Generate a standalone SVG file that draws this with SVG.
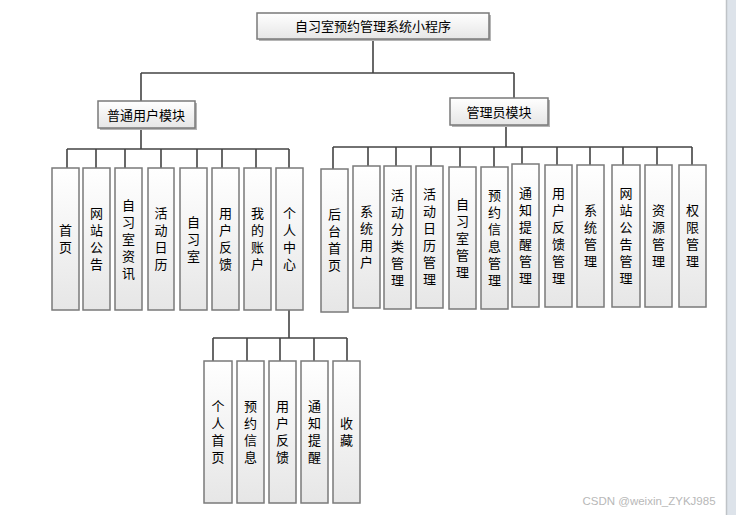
<svg xmlns="http://www.w3.org/2000/svg" width="736" height="515" viewBox="0 0 736 515">
<defs>
<linearGradient id="g" x1="0" y1="0" x2="0" y2="1">
<stop offset="0" stop-color="#ffffff"/>
<stop offset="1" stop-color="#e6e6e6"/>
</linearGradient>
<style>
.b{fill:url(#g);stroke:#7a7a7a;stroke-width:1.5}
.s{fill:#b5b5b5}
.t{font-family:"Noto Sans CJK SC","Liberation Sans",sans-serif;font-size:13px;fill:#000;text-anchor:middle}
.v{font-family:"Noto Sans CJK SC","Liberation Sans",sans-serif;font-size:13px;fill:#000;text-anchor:middle;writing-mode:vertical-rl;text-orientation:upright;letter-spacing:4px}
.c{stroke:#444;stroke-width:1.6;fill:none}
</style>
</defs>
<rect width="736" height="515" fill="#fff"/>
<rect x="726" y="0" width="10" height="515" fill="#dde3ea"/>
<line x1="726.5" y1="0" x2="726.5" y2="515" stroke="#bfc3c7" stroke-width="1.5"/>
<g id="connectors" class="c">
<path d="M373 39V73M141 73H514M141 73V101M514 73V98"/>
<path d="M141 128V149M67 149H289M67 149V168M96 149V168M125 149V168M161 149V168M197 149V168M222 149V168M256 149V168M289 149V168"/>
<path d="M506 125V147M333 147H692M333 147V169M368 147V166M396 147V166M431 147V166M460 147V167M494 147V167M522 147V164M557 147V165M590 147V165M623 147V165M657 147V165M692 147V165"/>
<path d="M289 310V338M213 338H347M213 338V361M247 338V361M280 338V361M314 338V361M347 338V361"/>
</g>
<g id="root"><rect class="s" x="259" y="15" width="232" height="26"/><rect class="b" x="257" y="13" width="232" height="26"/><text class="t" x="373" y="31">自习室预约管理系统小程序</text></g>
<g id="user"><rect class="s" x="100" y="103" width="97" height="27"/><rect class="b" x="98" y="101" width="97" height="27"/><text class="t" x="146" y="120">普通用户模块</text></g>
<g id="admin"><rect class="s" x="452" y="100" width="98" height="27"/><rect class="b" x="450" y="98" width="98" height="27"/><text class="t" x="499" y="117">管理员模块</text></g>
<g id="u1"><rect class="b" x="52" y="168" width="27" height="142"/><text class="v" x="65.5" y="241">首页</text></g>
<g id="u2"><rect class="b" x="83" y="168" width="27" height="142"/><text class="v" x="96.5" y="241">网站公告</text></g>
<g id="u3"><rect class="b" x="115" y="168" width="27" height="142"/><text class="v" x="128.5" y="241">自习室资讯</text></g>
<g id="u4"><rect class="b" x="148" y="168" width="26" height="142"/><text class="v" x="161" y="241">活动日历</text></g>
<g id="u5"><rect class="b" x="180" y="168" width="27" height="142"/><text class="v" x="193.5" y="241">自习室</text></g>
<g id="u6"><rect class="b" x="212" y="168" width="27" height="142"/><text class="v" x="225.5" y="241">用户反馈</text></g>
<g id="u7"><rect class="b" x="244" y="168" width="27" height="142"/><text class="v" x="257.5" y="241">我的账户</text></g>
<g id="u8"><rect class="b" x="276" y="168" width="27" height="142"/><text class="v" x="289.5" y="241">个人中心</text></g>
<g id="a1"><rect class="b" x="321" y="169" width="27" height="143"/><text class="v" x="334.5" y="242">后台首页</text></g>
<g id="a2"><rect class="b" x="353" y="166" width="27" height="142"/><text class="v" x="366.5" y="239">系统用户</text></g>
<g id="a3"><rect class="b" x="384" y="166" width="27" height="143"/><text class="v" x="397.5" y="239.5">活动分类管理</text></g>
<g id="a4"><rect class="b" x="416" y="166" width="27" height="142"/><text class="v" x="429.5" y="239">活动日历管理</text></g>
<g id="a5"><rect class="b" x="449" y="167" width="27" height="142"/><text class="v" x="462.5" y="240">自习室管理</text></g>
<g id="a6"><rect class="b" x="481" y="167" width="27" height="142"/><text class="v" x="494.5" y="240">预约信息管理</text></g>
<g id="a7"><rect class="b" x="512" y="164" width="27" height="143"/><text class="v" x="525.5" y="237.5">通知提醒管理</text></g>
<g id="a8"><rect class="b" x="545" y="165" width="27" height="142"/><text class="v" x="558.5" y="238">用户反馈管理</text></g>
<g id="a9"><rect class="b" x="577" y="165" width="27" height="142"/><text class="v" x="590.5" y="238">系统管理</text></g>
<g id="a10"><rect class="b" x="612" y="165" width="28" height="142"/><text class="v" x="626" y="238">网站公告管理</text></g>
<g id="a11"><rect class="b" x="645" y="165" width="27" height="142"/><text class="v" x="658.5" y="238">资源管理</text></g>
<g id="a12"><rect class="b" x="679" y="165" width="27" height="142"/><text class="v" x="692.5" y="238">权限管理</text></g>
<g id="p1"><rect class="b" x="204" y="361" width="28" height="142"/><text class="v" x="218" y="434">个人首页</text></g>
<g id="p2"><rect class="b" x="237" y="361" width="27" height="142"/><text class="v" x="250.5" y="434">预约信息</text></g>
<g id="p3"><rect class="b" x="269" y="361" width="27" height="142"/><text class="v" x="282.5" y="434">用户反馈</text></g>
<g id="p4"><rect class="b" x="301" y="361" width="27" height="142"/><text class="v" x="314.5" y="434">通知提醒</text></g>
<g id="p5"><rect class="b" x="333" y="361" width="27" height="142"/><text class="v" x="346.5" y="434">收藏</text></g>
<text x="649" y="505" font-family="Liberation Sans,sans-serif" font-size="11.5" fill="#b8b8b8" text-anchor="middle">CSDN @weixin_ZYKJ985</text>
</svg>
